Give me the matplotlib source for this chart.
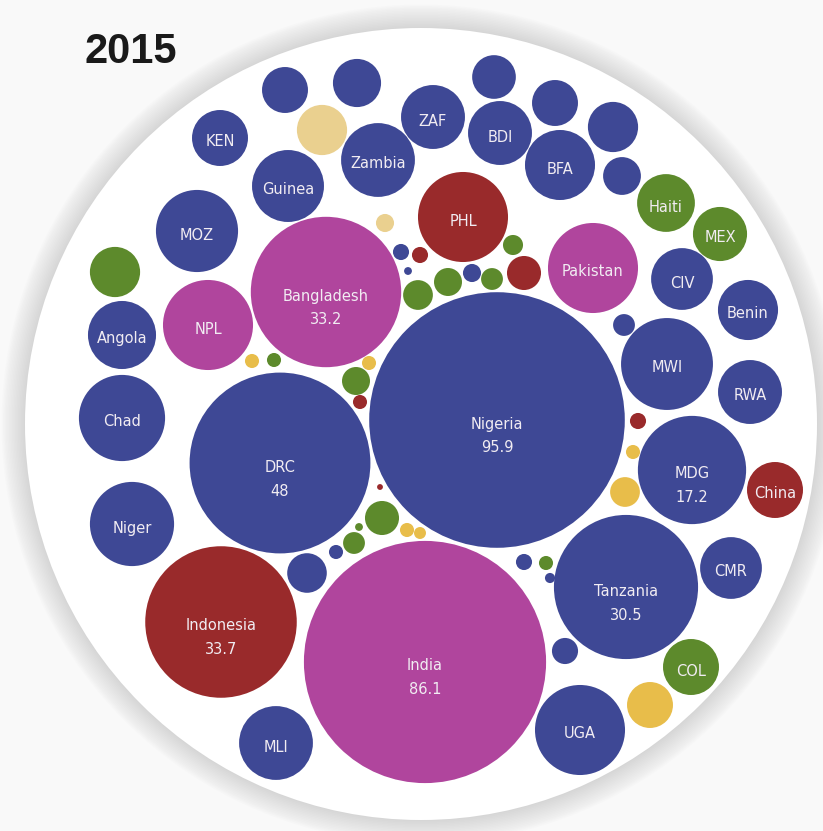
import matplotlib
matplotlib.use("Agg")
import matplotlib.pyplot as plt
from matplotlib.patches import Circle
import numpy as np

# Bubble data (value drives the bubble area)
names = ["Nigeria", "India", "DRC", "Indonesia", "Bangladesh", "Tanzania", "MDG",
         "MWI", "NPL", "Pakistan", "PHL", "UGA", "Chad", "Niger", "MOZ", "Zambia",
         "Guinea", "MLI", "BFA", "Angola", "ZAF", "BDI", "RWA", "CIV", "CMR", "Benin",
         "Haiti", "KEN", "China", "COL", "MEX",
         "", "", "", "", "", "", "", "", "", "", "", "", "", "", "", "", "", "", "",
         "", "", "", "", "", "", "", "", "", "", "", "", "", "", "", "", "", "", "",
         "", ""]
values = [95.9, 86.1, 48, 33.7, 33.2, 30.5, 17.2,
          12.4, 11.9, 11.9, 11.9, 11.9, 10.9, 10.4, 9.9, 8.0,
          7.6, 8.0, 7.2, 6.8, 6.0, 6.0, 6.0, 5.6, 5.6, 5.3,
          4.9, 4.6, 4.6, 4.6, 4.3,
          3.1, 3.4, 3.7, 3.7, 2.8, 3.1, 3.7, 2.1, 3.1, 2.3, 1.0, 1.3, 0.7, 0.38, 0.29,
          0.38, 0.29, 0.15, 0.29, 1.7, 0.7, 0.09, 0.29, 0.21, 0.05, 0.29, 0.29, 1.15,
          0.29, 0.29, 0.48, 0.38, 0.38, 0.09, 1.3, 1.15, 0.48, 0.7, 1.7, 0.59, 0.38]
regions = ["AF", "SA", "AF", "EA", "SA", "AF", "AF",
           "AF", "SA", "SA", "EA", "AF", "AF", "AF", "AF", "AF",
           "AF", "AF", "AF", "AF", "AF", "AF", "AF", "AF", "AF", "AF",
           "LA", "AF", "EA", "LA", "LA",
           "AF", "AF", "PL", "LA", "AF", "AF", "AF", "AF", "OT", "AF", "AF", "OT", "AF", "EA", "OT",
           "AF", "LA", "AF", "AF", "LA", "LA", "LA", "OT", "OT", "EA", "OT", "LA", "LA",
           "EA", "OT", "PL", "AF", "EA", "AF", "LA", "LA", "AF", "LA", "EA", "LA", "LA"]

# Packed layout (bubble centres, in image pixels)
x_pos = [497, 425, 280, 221, 326, 626, 692,
         667, 208, 593, 463, 580, 122, 132, 197, 378,
         288, 276, 560, 122, 433, 500, 750, 682, 731, 748,
         666, 220, 775, 691, 720,
         285, 357, 322, 115, 494, 555, 613, 622, 650, 307, 565, 625, 624, 638, 633,
         524, 546, 550, 336, 382, 354, 359, 407, 420, 380, 252, 274, 356,
         360, 369, 385, 401, 420, 408, 418, 448, 472, 492, 524, 513, 523]
y_pos = [420, 662, 463, 622, 292, 587, 470,
         364, 325, 268, 217, 730, 418, 524, 231, 160,
         186, 743, 165, 335, 117, 133, 392, 279, 568, 310,
         203, 138, 490, 667, 234,
         90, 83, 130, 272, 77, 103, 127, 176, 705, 573, 651, 492, 325, 421, 452,
         562, 563, 578, 552, 518, 543, 527, 530, 533, 487, 361, 360, 381,
         402, 363, 223, 252, 255, 271, 295, 282, 273, 279, 273, 245, 219]

# Labels that also show the value
with_value = ["Nigeria", "India", "DRC", "Indonesia", "Bangladesh", "Tanzania", "MDG"]

colors = {"AF": "#3e4895", "SA": "#b0459d", "EA": "#992a2b", "LA": "#5d8a2c",
          "OT": "#e8bd4a", "PL": "#ead08f"}

# Radius scale: area proportional to value
k = 13.05

fig = plt.figure(figsize=(8.23, 8.31), dpi=100, facecolor="#f9f9f9")
ax = fig.add_axes([0, 0, 1, 1])
ax.set_xlim(0, 823)
ax.set_ylim(831, 0)
ax.axis("off")

# Background disk with soft shadow rim
cx, cy, R = 421, 424, 396
for i in range(16):
    ax.add_patch(Circle((cx, cy), R + 1 + i * 1.5, facecolor="#8a8a8a", alpha=0.018, lw=0))
ax.add_patch(Circle((cx, cy), R, facecolor="white", lw=0))

# Bubbles
for name, v, reg, x, y in zip(names, values, regions, x_pos, y_pos):
    r = k * np.sqrt(v)
    ax.add_patch(Circle((x, y), r, facecolor=colors[reg], edgecolor="none"))
    if name:
        ax.text(x, y + 4, name, color="#f1ecf2", fontsize=10.5, ha="center", va="center")
        if name in with_value:
            ax.text(x, y + 28, f"{v:g}", color="#f1ecf2", fontsize=10.5, ha="center", va="center")

# Year title
ax.text(85, 63, "2015", fontsize=30, fontweight="bold", color="#1a1a1a",
        family=["Liberation Sans Narrow", "Liberation Sans", "DejaVu Sans"],
        ha="left", va="baseline")

fig.savefig("out.png", dpi=100, facecolor=fig.get_facecolor())
